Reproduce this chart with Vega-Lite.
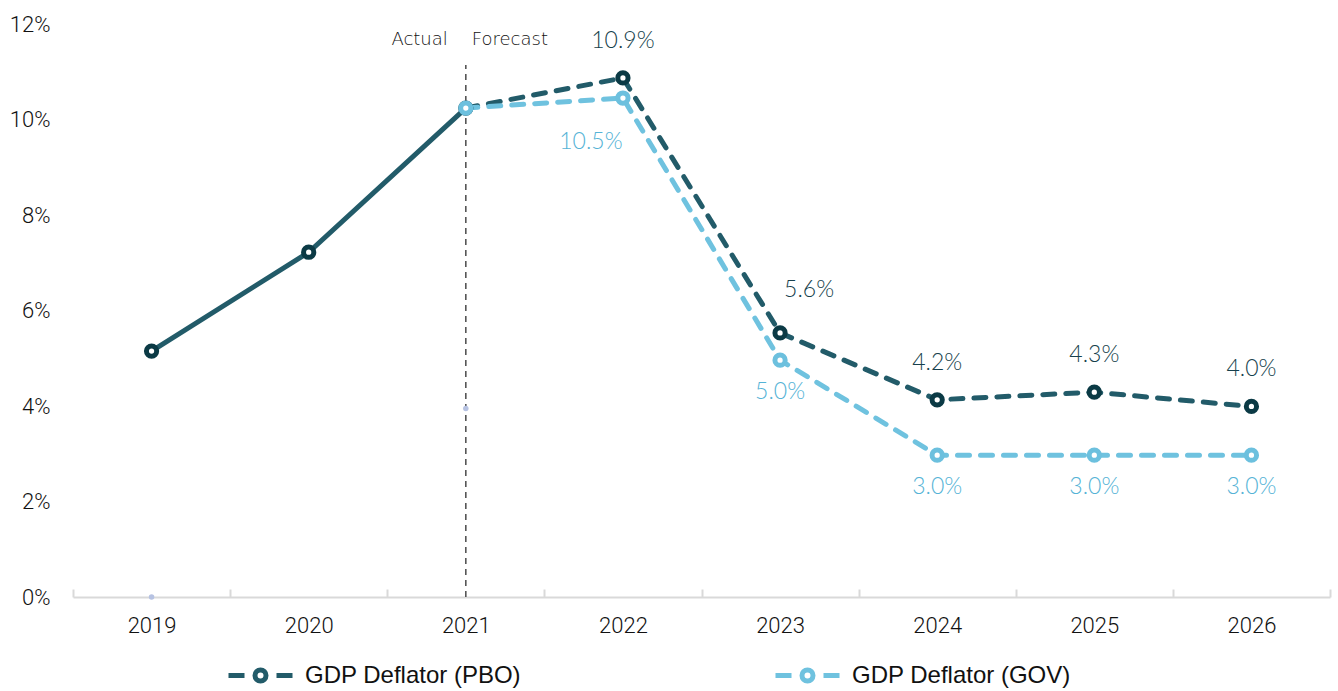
{
  "$schema": "https://vega.github.io/schema/vega-lite/v6.json",
  "width": 1257,
  "height": 573,
  "autosize": {"type": "none"},
  "padding": {"left": 73, "top": 24, "right": 8, "bottom": 94},
  "background": "white",
  "config": {"view": {"stroke": null}},
  "datasets": {
    "main": [
      {"year": "2019", "series": "GDP Deflator (PBO)", "phase": "Actual", "value": 5.15, "label": null},
      {"year": "2020", "series": "GDP Deflator (PBO)", "phase": "Actual", "value": 7.22, "label": null},
      {"year": "2021", "series": "GDP Deflator (PBO)", "phase": "Actual", "value": 10.24, "label": null},
      {"year": "2021", "series": "GDP Deflator (PBO)", "phase": "Forecast", "value": 10.24, "label": null},
      {"year": "2022", "series": "GDP Deflator (PBO)", "phase": "Forecast", "value": 10.87, "label": "10.9%"},
      {"year": "2023", "series": "GDP Deflator (PBO)", "phase": "Forecast", "value": 5.53, "label": "5.6%"},
      {"year": "2024", "series": "GDP Deflator (PBO)", "phase": "Forecast", "value": 4.13, "label": "4.2%"},
      {"year": "2025", "series": "GDP Deflator (PBO)", "phase": "Forecast", "value": 4.29, "label": "4.3%"},
      {"year": "2026", "series": "GDP Deflator (PBO)", "phase": "Forecast", "value": 3.99, "label": "4.0%"},
      {"year": "2021", "series": "GDP Deflator (GOV)", "phase": "Forecast", "value": 10.24, "label": null},
      {"year": "2022", "series": "GDP Deflator (GOV)", "phase": "Forecast", "value": 10.45, "label": "10.5%"},
      {"year": "2023", "series": "GDP Deflator (GOV)", "phase": "Forecast", "value": 4.96, "label": "5.0%"},
      {"year": "2024", "series": "GDP Deflator (GOV)", "phase": "Forecast", "value": 2.97, "label": "3.0%"},
      {"year": "2025", "series": "GDP Deflator (GOV)", "phase": "Forecast", "value": 2.97, "label": "3.0%"},
      {"year": "2026", "series": "GDP Deflator (GOV)", "phase": "Forecast", "value": 2.97, "label": "3.0%"}
    ],
    "dots": [
      {"year": "2019", "value": 0},
      {"year": "2021", "value": 3.95}
    ],
    "marker": [
      {"year": "2021", "y": 0, "y2": 11.14, "ty": 11.67}
    ]
  },
  "encoding": {
    "x": {
      "field": "year",
      "type": "ordinal",
      "scale": {"type": "band", "domain": ["2019","2020","2021","2022","2023","2024","2025","2026"], "paddingInner": 0, "paddingOuter": 0},
      "axis": {
        "title": null,
        "labelAngle": 0,
        "tickBand": "extent",
        "domainColor": "#d9d9d9",
        "domainWidth": 2,
        "tickColor": "#d9d9d9",
        "tickWidth": 2,
        "tickSize": -8,
        "labelPadding": 26,
        "labelFont": "Roboto",
        "labelFontWeight": 300,
        "labelFontSize": 22,
        "labelColor": "#111111",
        "grid": false
      }
    }
  },
  "layer": [
    {
      "data": {"name": "marker"},
      "mark": {"type": "rule", "color": "#555555", "strokeWidth": 1.6, "strokeDash": [6, 5]},
      "encoding": {
        "y": {"field": "y", "type": "quantitative", "scale": {"domain": [0, 12], "nice": false}, "axis": {
          "title": null, "values": [0, 2, 4, 6, 8, 10, 12], "labelExpr": "datum.value + '%'",
          "domain": false, "ticks": false, "grid": false, "labelPadding": 23,
          "labelFont": "Roboto", "labelFontWeight": 300, "labelFontSize": 22, "labelColor": "#111111"
        }},
        "y2": {"field": "y2"}
      }
    },
    {
      "data": {"name": "marker"},
      "mark": {"type": "text", "text": "Actual", "align": "right", "dx": -18, "font": "DejaVu Sans", "fontSize": 18, "fontWeight": 300, "color": "#111111", "baseline": "middle"},
      "encoding": {"y": {"field": "ty", "type": "quantitative"}}
    },
    {
      "data": {"name": "marker"},
      "mark": {"type": "text", "text": "Forecast", "align": "left", "dx": 6, "font": "DejaVu Sans", "fontSize": 18, "fontWeight": 300, "color": "#111111", "baseline": "middle"},
      "encoding": {"y": {"field": "ty", "type": "quantitative"}}
    },
    {
      "data": {"name": "dots"},
      "mark": {"type": "point", "filled": true, "color": "#b6c2e2", "size": 30, "opacity": 1},
      "encoding": {"y": {"field": "value", "type": "quantitative"}}
    },
    {
      "data": {"name": "main"},
      "transform": [{"filter": "datum.phase === 'Actual'"}],
      "mark": {"type": "line", "color": "#225b69", "strokeWidth": 5},
      "encoding": {"y": {"field": "value", "type": "quantitative"}}
    },
    {
      "data": {"name": "main"},
      "transform": [{"filter": "datum.phase === 'Forecast'"}],
      "mark": {"type": "line", "strokeWidth": 5, "strokeDash": [12, 11], "strokeCap": "round"},
      "encoding": {
        "y": {"field": "value", "type": "quantitative"},
        "color": {
          "field": "series", "type": "nominal",
          "scale": {"domain": ["GDP Deflator (PBO)", "GDP Deflator (GOV)"], "range": ["#225b69", "#6fc2df"]},
          "legend": {
            "title": null,
            "orient": "none",
            "direction": "horizontal",
            "legendX": 175,
            "legendY": 639,
            "symbolType": "M-3.2,0L-1.6,0M1.6,0L3.2,0M-0.55,0A0.55,0.55,0,1,1,0.55,0A0.55,0.55,0,1,1,-0.55,0Z",
            "symbolSize": 400,
            "symbolStrokeWidth": 5,
            "symbolFillColor": "white",
            "labelOffset": 32,
            "labelFont": "Liberation Sans",
            "labelFontSize": 24,
            "labelColor": "#111111",
            "columnPadding": 243,
            "labelLimit": 400
          }
        },
        "order": {"field": "year"}
      }
    },
    {
      "data": {"name": "main"},
      "transform": [{"filter": "datum.series === 'GDP Deflator (PBO)' && datum.phase === 'Actual' || datum.series === 'GDP Deflator (PBO)' && datum.year > '2021'"}],
      "mark": {"type": "point", "shape": "circle", "filled": false, "fill": "white", "stroke": "#0b3a45", "strokeWidth": 5, "size": 105, "opacity": 1},
      "encoding": {"y": {"field": "value", "type": "quantitative"}}
    },
    {
      "data": {"name": "main"},
      "transform": [{"filter": "datum.series === 'GDP Deflator (GOV)'"}],
      "mark": {"type": "point", "shape": "circle", "filled": false, "fill": "white", "stroke": "#6cc0de", "strokeWidth": 5, "size": 105, "opacity": 1},
      "encoding": {"y": {"field": "value", "type": "quantitative"}}
    },
    {
      "data": {"name": "main"},
      "transform": [{"filter": "datum.series === 'GDP Deflator (PBO)' && datum.label != null && datum.year !== '2023'"}],
      "mark": {"type": "text", "dy": -37, "font": "Lato", "fontSize": 23, "fontWeight": 300, "color": "#163f4c", "baseline": "middle"},
      "encoding": {"y": {"field": "value", "type": "quantitative"}, "text": {"field": "label"}}
    },
    {
      "data": {"name": "main"},
      "transform": [{"filter": "datum.series === 'GDP Deflator (PBO)' && datum.year === '2023'"}],
      "mark": {"type": "text", "dy": -43, "dx": 29, "font": "Lato", "fontSize": 23, "fontWeight": 300, "color": "#163f4c", "baseline": "middle"},
      "encoding": {"y": {"field": "value", "type": "quantitative"}, "text": {"field": "label"}}
    },
    {
      "data": {"name": "main"},
      "transform": [{"filter": "datum.series === 'GDP Deflator (GOV)' && datum.label != null && datum.year !== '2022'"}],
      "mark": {"type": "text", "dy": 32, "font": "Lato", "fontSize": 23, "fontWeight": 300, "color": "#55b3d6", "baseline": "middle"},
      "encoding": {"y": {"field": "value", "type": "quantitative"}, "text": {"field": "label"}}
    },
    {
      "data": {"name": "main"},
      "transform": [{"filter": "datum.series === 'GDP Deflator (GOV)' && datum.year === '2022'"}],
      "mark": {"type": "text", "dy": 44, "dx": -32, "font": "Lato", "fontSize": 23, "fontWeight": 300, "color": "#55b3d6", "baseline": "middle"},
      "encoding": {"y": {"field": "value", "type": "quantitative"}, "text": {"field": "label"}}
    }
  ]
}
